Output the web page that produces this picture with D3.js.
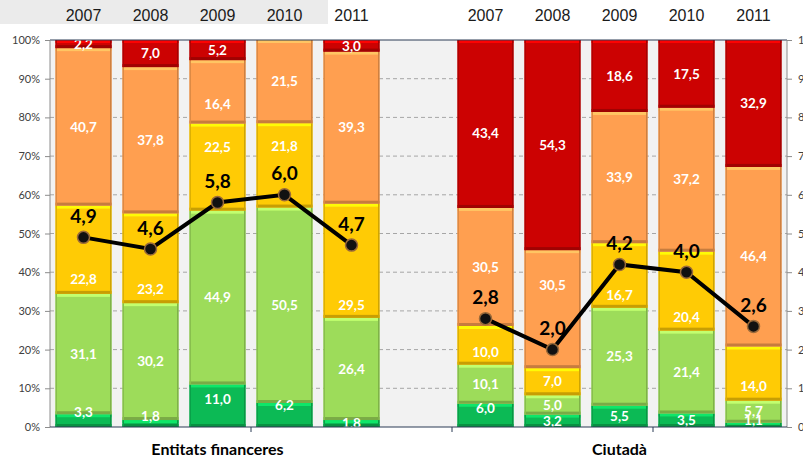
<!DOCTYPE html>
<html><head><meta charset="utf-8">
<script src="https://cdn.jsdelivr.net/npm/d3@7"></script>
<style>html,body{margin:0;padding:0;background:#fff;overflow:hidden}</style>
</head><body>
<svg id="c" width="803" height="459"></svg>
<script>
// ---- data ----
const years = ["2007", "2008", "2009", "2010", "2011"];
const groups = ["Entitats financeres", "Ciutadà"];
const levels = ["Molt bona", "Bona", "Regular", "Dolenta", "Molt dolenta"];
const levelColors = ["#0cba55", "#9ddc5a", "#ffcb05", "#ff9f50", "#cc0202"];

const entMoltBona   = [3.3, 1.8, 11.0, 6.2, 1.8];
const entBona       = [31.1, 30.2, 44.9, 50.5, 26.4];
const entRegular    = [22.8, 23.2, 22.5, 21.8, 29.5];
const entDolenta    = [40.7, 37.8, 16.4, 21.5, 39.3];
const entMoltDolenta= [2.2, 7.0, 5.2, 0.0, 3.0];
const entMitjana    = [4.9, 4.6, 5.8, 6.0, 4.7];

const ciuMoltBona   = [6.0, 3.2, 5.5, 3.5, 1.1];
const ciuBona       = [10.1, 5.0, 25.3, 21.4, 5.7];
const ciuRegular    = [10.0, 7.0, 16.7, 20.4, 14.0];
const ciuDolenta    = [30.5, 30.5, 33.9, 37.2, 46.4];
const ciuMoltDolenta= [43.4, 54.3, 18.6, 17.5, 32.9];
const ciuMitjana    = [2.8, 2.0, 4.2, 4.0, 2.6];

const leftTicks = [0, 10, 20, 30, 40, 50, 60, 70, 80, 90, 100];
const rightTicks = [0, 1, 2, 3, 4, 5, 6, 7, 8, 9, 10];

const groupData = [
  {name: groups[0], key: "E", series: [entMoltBona, entBona, entRegular, entDolenta, entMoltDolenta], line: entMitjana},
  {name: groups[1], key: "C", series: [ciuMoltBona, ciuBona, ciuRegular, ciuDolenta, ciuMoltDolenta], line: ciuMitjana}
];

// ---- layout: manual label nudges (pixels, as in the original chart) ----
const labelNudge = {
  "E2007-0": -8, "E2008-0": -7, "E2009-0": -6, "E2010-0": -10,
  "E2007-2": 30, "E2008-2": 31, "E2011-2": 44, "E2009-2": -20, "E2010-2": -19,
  "E2009-3": 12,
  "C2007-4": 9, "C2008-3": -24, "C2009-2": 20, "C2010-2": 26, "C2011-2": 13,
  "C2007-2": 7, "C2007-0": -7, "C2011-0": -5
};

const svg = d3.select("#c");
const L = 50, R = 787, T = 40, B = 427;
const slots = [...years.map(y => "E" + y), "gap", ...years.map(y => "C" + y)];
const x = d3.scaleBand().domain(slots).range([L, R]).paddingInner(0.164).paddingOuter(0.082);
const y = d3.scaleLinear().domain([0, 100]).range([B, T]);
const y2 = d3.scaleLinear().domain([0, 10]).range([B, T]);
const fmt = v => v.toFixed(1).replace(".", ",");

// top band
svg.append("rect").attr("x", 0).attr("y", 0).attr("width", 328).attr("height", 24).attr("fill", "#ebebeb");

// plot bg
svg.append("rect").attr("x", L).attr("y", T).attr("width", R - L).attr("height", B - T).attr("fill", "#f2f2f2");

// gridlines
svg.append("g").selectAll("line").data(leftTicks.filter(d => d > 0 && d < 100)).join("line")
  .attr("x1", L).attr("x2", R).attr("y1", d => y(d)).attr("y2", d => y(d))
  .attr("stroke", "#a6a6a6").attr("stroke-width", 1).attr("stroke-dasharray", "4,3");

svg.append("defs").append("clipPath").attr("id", "plotclip")
  .append("rect").attr("x", L).attr("y", T).attr("width", R - L).attr("height", B - T);

const barsG = svg.append("g");
const labelsG = svg.append("g").attr("clip-path", "url(#plotclip)");

groupData.forEach(g => {
  years.forEach((yr, i) => {
    let cum = 0;
    const bx = x(g.key + yr), bw = x.bandwidth();
    g.series.forEach((s, li) => {
      const v = s[i];
      const y0 = cum, y1 = Math.min(cum + v, 100);
      cum += v;
      const top = y(y1), bot = y(y0), h = bot - top;
      if (h <= 0) return;
      const c = d3.color(levelColors[li]);
      barsG.append("rect").attr("x", bx).attr("y", top).attr("width", bw).attr("height", h).attr("fill", levelColors[li]);
      const e = Math.min(3, h / 2);
      barsG.append("rect").attr("x", bx).attr("y", top).attr("width", bw).attr("height", e).attr("fill", c.brighter(0.6).formatHex());
      barsG.append("rect").attr("x", bx).attr("y", bot - e).attr("width", bw).attr("height", e).attr("fill", c.darker(0.7).formatHex());
      barsG.append("rect").attr("x", bx).attr("y", top).attr("width", 1.5).attr("height", h).attr("fill", c.darker(0.4).formatHex());
      barsG.append("rect").attr("x", bx + bw - 1.5).attr("y", top).attr("width", 1.5).attr("height", h).attr("fill", c.darker(0.6).formatHex());
      const nudge = labelNudge[g.key + yr + "-" + li] || 0;
      labelsG.append("text").attr("x", bx + bw / 2).attr("y", (top + bot) / 2 + nudge)
        .attr("dy", "0.35em").attr("text-anchor", "middle")
        .attr("font-family", "Lato, sans-serif").attr("font-weight", "bold").attr("font-size", 13.5)
        .attr("fill", "#fff").text(fmt(v));
    });
  });
});

// borders and axes
svg.append("line").attr("x1", L).attr("x2", R).attr("y1", T).attr("y2", T).attr("stroke", "#2b3a55").attr("stroke-width", 1);
svg.append("line").attr("x1", L).attr("x2", L).attr("y1", T).attr("y2", B).attr("stroke", "#8c8c8c");
svg.append("line").attr("x1", R).attr("x2", R).attr("y1", T).attr("y2", B).attr("stroke", "#8c8c8c");
svg.append("line").attr("x1", L).attr("x2", R).attr("y1", B).attr("y2", B).attr("stroke", "#2b3a55").attr("stroke-width", 1.2);

const la = svg.append("g").attr("transform", `translate(${L},0)`)
  .call(d3.axisLeft(y).tickValues(leftTicks).tickFormat(d => d + "%").tickSize(5).tickPadding(5));
la.select(".domain").remove();
la.selectAll("line").attr("stroke", "#8c8c8c");
la.selectAll("text").attr("font-family", "Lato, sans-serif").attr("font-size", 11).attr("fill", "#404040");

const ra = svg.append("g").attr("transform", `translate(${R},0)`)
  .call(d3.axisRight(y2).tickValues(rightTicks).tickFormat(d => d).tickSize(5).tickPadding(6));
ra.select(".domain").remove();
ra.selectAll("line").attr("stroke", "#8c8c8c");
ra.selectAll("text").attr("font-family", "Lato, sans-serif").attr("font-size", 11).attr("fill", "#404040");

svg.append("g").selectAll("line").data([3, 6, 9]).join("line")
  .attr("x1", d => L + d * x.step()).attr("x2", d => L + d * x.step())
  .attr("y1", B).attr("y2", B + 5).attr("stroke", "#2b3a55");

groupData.forEach(g => {
  const mid = x(g.key + years[2]) + x.bandwidth() / 2;
  svg.append("text").attr("x", mid).attr("y", 455).attr("text-anchor", "middle")
    .attr("font-family", "Lato, sans-serif").attr("font-weight", "bold").attr("font-size", 16)
    .attr("fill", "#000").text(g.name);
});

groupData.forEach(g => {
  svg.append("g").selectAll("text").data(years).join("text")
    .attr("x", d => x(g.key + d) + x.bandwidth() / 2).attr("y", 21).attr("text-anchor", "middle")
    .attr("font-family", "Liberation Sans, Arial, sans-serif").attr("font-size", 16).attr("fill", "#1a1a1a")
    .text(d => d);
});

const line = d3.line().x(d => d[0]).y(d => d[1]);
groupData.forEach(g => {
  const pts = years.map((yr, i) => [x(g.key + yr) + x.bandwidth() / 2, y2(g.line[i])]);
  svg.append("path").attr("d", line(pts)).attr("fill", "none").attr("stroke", "#000").attr("stroke-width", 4);
  svg.append("g").selectAll("circle").data(pts).join("circle")
    .attr("cx", d => d[0]).attr("cy", d => d[1]).attr("r", 6)
    .attr("fill", "#111").attr("stroke", "#9a6a3a").attr("stroke-width", 1.5);
  svg.append("g").selectAll("text").data(pts).join("text")
    .attr("x", d => d[0]).attr("y", d => d[1] - 21).attr("dy", "0.35em").attr("text-anchor", "middle")
    .attr("font-family", "Lato, sans-serif").attr("font-weight", "bold").attr("font-size", 19)
    .attr("fill", "#000").text((d, i) => fmt(g.line[i]));
});
</script>
</body></html>
